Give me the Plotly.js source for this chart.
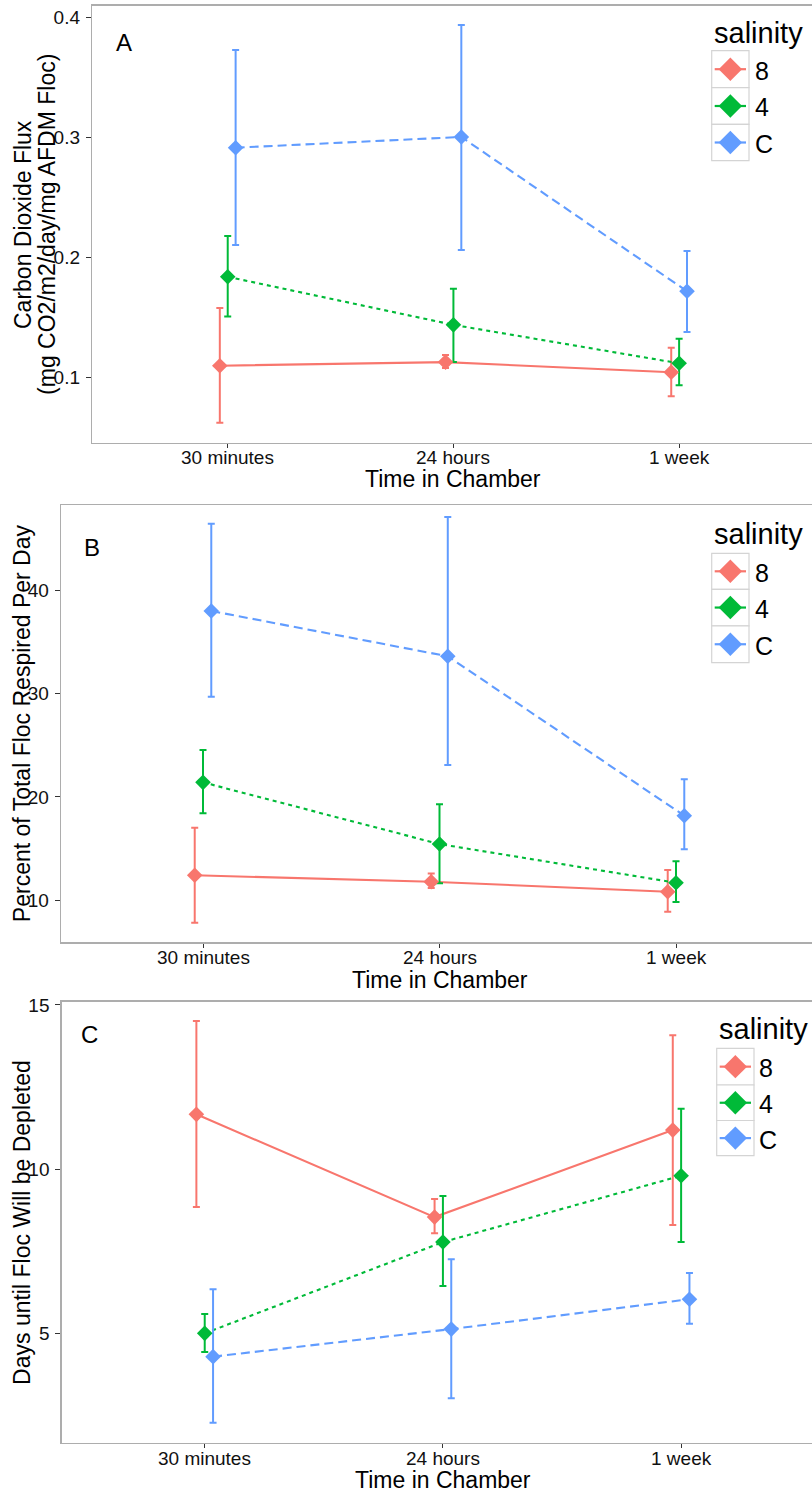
<!DOCTYPE html>
<html>
<head>
<meta charset="utf-8">
<script src="https://cdn.plot.ly/plotly-3.0.1.min.js"></script>
<style>
  html, body { margin: 0; padding: 0; background: #ffffff; }
  #chart { width: 812px; height: 1493px; }
</style>
</head>
<body>
<div id="chart"></div>
<script>
// Time points on the x axis and salinity groups
const categories = ['30 minutes', '24 hours', '1 week'];
const salinityGroups = ['8', '4', 'C'];
const groupColors = ['#F8766D', '#00BA38', '#619CFF'];
const groupDash = ['solid', '4px,4px', '9px,5px'];

// Panel A: carbon dioxide flux (mg CO2/m2/day/mg AFDM floc)
const fluxMean8 = [0.110, 0.113, 0.1045];
const fluxLow8  = [0.0625, 0.108, 0.0845];
const fluxHigh8 = [0.158, 0.119, 0.125];
const fluxMean4 = [0.184, 0.144, 0.112];
const fluxLow4  = [0.151, 0.113, 0.0937];
const fluxHigh4 = [0.218, 0.174, 0.1325];
const fluxMeanC = [0.2915, 0.3004, 0.172];
const fluxLowC  = [0.2105, 0.2063, 0.138];
const fluxHighC = [0.3729, 0.3937, 0.2055];

// Panel B: percent of total floc respired per day
const pctMean8 = [12.42, 11.8, 10.83];
const pctLow8  = [7.83, 11.2, 8.9];
const pctHigh8 = [17.02, 12.6, 12.93];
const pctMean4 = [21.41, 15.44, 11.70];
const pctLow4  = [18.41, 11.64, 9.84];
const pctHigh4 = [24.54, 19.28, 13.77];
const pctMeanC = [37.98, 33.6, 18.18];
const pctLowC  = [29.69, 23.09, 14.93];
const pctHighC = [46.42, 47.07, 21.70];

// Panel C: days until floc will be depleted
const daysMean8 = [11.67, 8.54, 11.19];
const daysLow8  = [8.85, 8.05, 8.30];
const daysHigh8 = [14.51, 9.09, 14.08];
const daysMean4 = [5.00, 7.78, 9.80];
const daysLow4  = [4.43, 6.44, 7.78];
const daysHigh4 = [5.59, 9.18, 11.84];
const daysMeanC = [4.29, 5.13, 6.04];
const daysLowC  = [2.28, 3.02, 5.29];
const daysHighC = [6.34, 7.26, 6.84];

const W = 812, H = 1493;
const FONT = 'Liberation Sans, Arial, sans-serif';
const DODGE = 0.035;
const TICK_SIZE = 19;

// pixel -> paper helpers
const fx = x => x / W;
const fy = y => 1 - y / H;

const panels = [
  {
    xa: 'x', ya: 'y',
    series: [
      [fluxMean8, fluxLow8, fluxHigh8],
      [fluxMean4, fluxLow4, fluxHigh4],
      [fluxMeanC, fluxLowC, fluxHighC]
    ],
    left: 92.3, top: 5.7, bottom: 442.7, step: 225.7,
    yrange: [0.0459, 0.4097], ytick: [0.1, 0.2, 0.3, 0.4], ytext: ['0.1', '0.2', '0.3', '0.4'],
    letter: 'A', letterPos: [123.7, 42],
    ytitle: ['Carbon Dioxide Flux', '(mg CO2/m2/day/mg AFDM Floc)'], ytitleX: [22.8, 46.7],
    xlabelY: 457, xtitleY: 479.5,
    legend: { left: 711.7, tops: [50.7, 87.7, 124.3, 160.7], titleY: 32.6, titleX: 711.5, labelX: 752.5 }
  },
  {
    xa: 'x2', ya: 'y2',
    series: [
      [pctMean8, pctLow8, pctHigh8],
      [pctMean4, pctLow4, pctHigh4],
      [pctMeanC, pctLowC, pctHighC]
    ],
    left: 61.1, top: 505, bottom: 942.3, step: 236.5,
    yrange: [5.94, 48.23], ytick: [10, 20, 30, 40], ytext: ['10', '20', '30', '40'],
    letter: 'B', letterPos: [91.7, 547.5],
    ytitle: ['Percent of Total Floc Respired Per Day'], ytitleX: [21.5],
    xlabelY: 957.5, xtitleY: 979.8,
    legend: { left: 711.7, tops: [553.3, 589.3, 625.8, 662.7], titleY: 534.2, titleX: 711.5, labelX: 752.5 }
  },
  {
    xa: 'x3', ya: 'y3',
    series: [
      [daysMean8, daysLow8, daysHigh8],
      [daysMean4, daysLow4, daysHigh4],
      [daysMeanC, daysLowC, daysHighC]
    ],
    left: 61.8, top: 1001.7, bottom: 1442.7, step: 238.2,
    yrange: [1.67, 15.10], ytick: [5, 10, 15], ytext: ['5', '10', '15'],
    letter: 'C', letterPos: [89.2, 1034.2],
    ytitle: ['Days until Floc Will be Depleted'], ytitleX: [21.7],
    xlabelY: 1458, xtitleY: 1480.3,
    legend: { left: 716.7, tops: [1048.3, 1085, 1120.5, 1155.7], titleY: 1029.3, titleX: 716.5, labelX: 757 }
  }
];

const traces = [];
const shapes = [];
const annotations = [];
const layout = {
  width: W, height: H,
  margin: { l: 0, r: 0, t: 0, b: 0, pad: 0 },
  paper_bgcolor: '#ffffff',
  plot_bgcolor: 'rgba(0,0,0,0)',
  showlegend: false,
  font: { family: FONT, color: '#1a1a1a' }
};

panels.forEach((p, pi) => {
  const sfx = pi === 0 ? '' : String(pi + 1);
  const xPos = categories.map((c, i) => i + 1);

  // error bars + connecting lines first, then the diamonds on top
  p.series.forEach((s, gi) => {
    const [mean, lo, hi] = s;
    const xs = xPos.map(v => v + (gi - 1) * DODGE);
    traces.push({
      type: 'scatter', mode: 'lines', xaxis: p.xa, yaxis: p.ya,
      x: xs, y: mean, name: salinityGroups[gi], hoverinfo: 'skip',
      line: { color: groupColors[gi], width: 2.1, dash: groupDash[gi] },
      error_y: {
        type: 'data', symmetric: false,
        array: mean.map((m, i) => hi[i] - m),
        arrayminus: mean.map((m, i) => m - lo[i]),
        color: groupColors[gi], thickness: 2, width: 3.5
      }
    });
  });
  p.series.forEach((s, gi) => {
    const [mean] = s;
    const xs = xPos.map(v => v + (gi - 1) * DODGE);
    traces.push({
      type: 'scatter', mode: 'markers', xaxis: p.xa, yaxis: p.ya,
      x: xs, y: mean, name: salinityGroups[gi],
      marker: { symbol: 'diamond', size: 12, color: groupColors[gi], opacity: 1, line: { width: 0 } }
    });
  });

  const xEnd = 0.4 + (W - p.left) / p.step;
  layout['xaxis' + sfx] = {
    domain: [fx(p.left), 1], range: [0.4, xEnd], anchor: 'y' + sfx,
    tickmode: 'array', tickvals: [1, 2, 3], ticktext: categories,
    showticklabels: false,
    showgrid: false, zeroline: false,
    showline: true, linecolor: '#adadad', linewidth: 1.5, mirror: true,
    ticks: 'outside', ticklen: 4, tickwidth: 1, tickcolor: '#333333',
    fixedrange: true
  };
  layout['yaxis' + sfx] = {
    domain: [fy(p.bottom), fy(p.top)], range: p.yrange, anchor: 'x' + sfx,
    tickmode: 'array', tickvals: p.ytick, ticktext: p.ytext,
    showgrid: false, zeroline: false,
    showline: true, linecolor: '#adadad', linewidth: 1.5, mirror: false,
    ticks: 'outside', ticklen: 5, tickwidth: 1, tickcolor: '#333333',
    tickfont: { family: FONT, size: TICK_SIZE, color: '#111111' },
    ticklabelstandoff: 2,
    fixedrange: true
  };

  // category labels under the x ticks
  categories.forEach((c, i) => {
    annotations.push({
      xref: p.xa, yref: 'paper', x: xPos[i], y: fy(p.xlabelY),
      xanchor: 'center', yanchor: 'middle', showarrow: false,
      text: c, font: { family: FONT, size: TICK_SIZE, color: '#111111' }
    });
  });

  // panel letter
  annotations.push({
    xref: 'paper', yref: 'paper', x: fx(p.letterPos[0]), y: fy(p.letterPos[1]),
    xanchor: 'center', yanchor: 'middle', showarrow: false,
    text: p.letter, font: { family: FONT, size: 24, color: '#000000' }
  });

  // y axis title (one or two lines)
  p.ytitle.forEach((t, li) => {
    annotations.push({
      xref: 'paper', yref: 'paper', x: fx(p.ytitleX[li]), y: fy((p.top + p.bottom) / 2),
      xanchor: 'center', yanchor: 'middle', showarrow: false, textangle: -90,
      text: t, font: { family: FONT, size: 23, color: '#000000' }
    });
  });

  // x axis title, centred on the full panel width
  const panelRight = p.left + 3.2 * p.step;
  annotations.push({
    xref: 'paper', yref: 'paper', x: fx((p.left + panelRight) / 2), y: fy(p.xtitleY),
    xanchor: 'center', yanchor: 'middle', showarrow: false,
    text: 'Time in Chamber', font: { family: FONT, size: 23, color: '#000000' }
  });

  // legend: title, key boxes, key glyphs and labels
  const lg = p.legend;
  const keyW = 37.3;
  annotations.push({
    xref: 'paper', yref: 'paper', x: fx(lg.titleX), y: fy(lg.titleY),
    xanchor: 'left', yanchor: 'middle', showarrow: false,
    text: 'salinity', font: { family: FONT, size: 29, color: '#000000' }
  });
  salinityGroups.forEach((g, gi) => {
    const t = lg.tops[gi], b = lg.tops[gi + 1];
    const cy = (t + b) / 2;
    shapes.push({
      type: 'rect', xref: 'x4', yref: 'y4',
      x0: lg.left, x1: lg.left + keyW, y0: t, y1: b,
      line: { color: '#d4d4d4', width: 1.2 }, fillcolor: '#ffffff', layer: 'below'
    });
    traces.push({
      type: 'scatter', mode: 'lines', xaxis: 'x4', yaxis: 'y4',
      x: [lg.left + 3, lg.left + keyW - 3], y: [cy, cy],
      hoverinfo: 'skip', name: g,
      line: { color: groupColors[gi], width: 2.2 }
    });
    traces.push({
      type: 'scatter', mode: 'markers', xaxis: 'x4', yaxis: 'y4',
      x: [lg.left + keyW / 2], y: [cy],
      hoverinfo: 'skip', name: g,
      marker: { symbol: 'diamond', size: 18, color: groupColors[gi], opacity: 1, line: { width: 0 } }
    });
    annotations.push({
      xref: 'paper', yref: 'paper', x: fx(lg.labelX), y: fy(cy + 1.5),
      xanchor: 'left', yanchor: 'middle', showarrow: false,
      text: g, font: { family: FONT, size: 25, color: '#000000' }
    });
  });
});

// full-figure pixel axes used for the legend keys
layout.xaxis4 = { domain: [0, 1], range: [0, W], anchor: 'y4', visible: false, fixedrange: true };
layout.yaxis4 = { domain: [0, 1], range: [H, 0], anchor: 'x4', visible: false, fixedrange: true };
layout.shapes = shapes;
layout.annotations = annotations;

Plotly.newPlot('chart', traces, layout, { displayModeBar: false, staticPlot: true });
</script>
</body>
</html>
